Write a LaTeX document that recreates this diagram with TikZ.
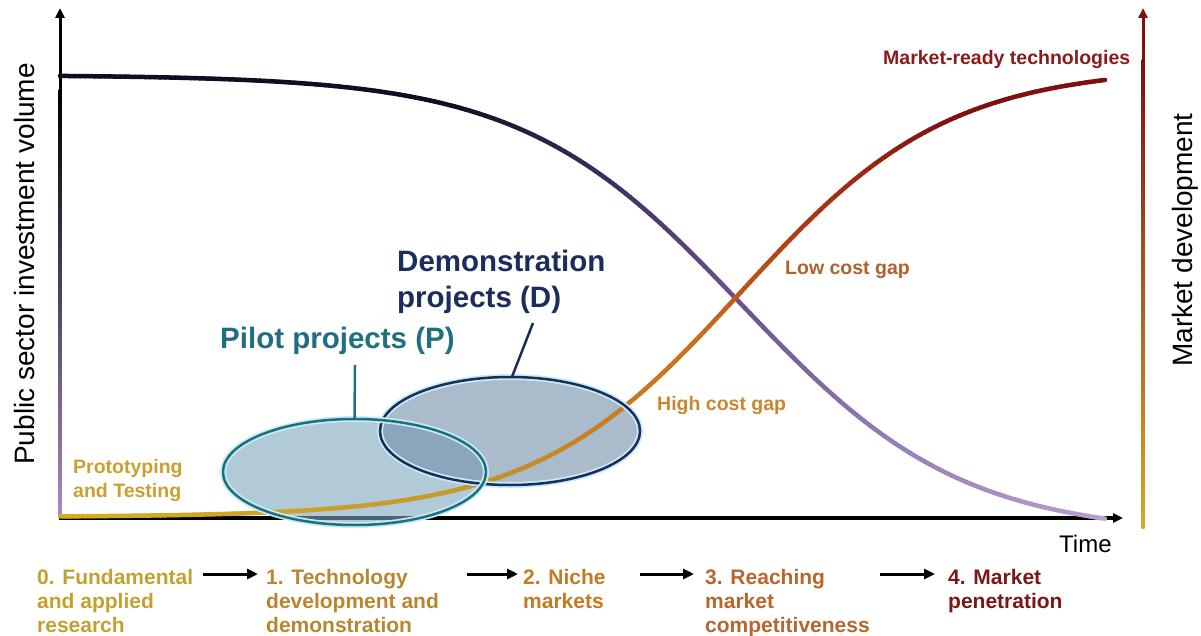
\documentclass[tikz,border=0pt]{standalone}
\usepackage{fontspec}
\setmainfont{Liberation Sans}
\usetikzlibrary{arrows.meta,shapes.geometric}
\definecolor{cGold}{HTML}{D6AE22}
\definecolor{cOlive}{HTML}{C49A2A}
\definecolor{cOrange}{HTML}{C8701C}
\definecolor{cRust}{HTML}{B03A14}
\definecolor{cDRed}{HTML}{7E1010}
\definecolor{pDark}{HTML}{120E22}
\definecolor{pMid}{HTML}{3A2C5C}
\definecolor{pPur}{HTML}{6A5090}
\definecolor{pPur2}{HTML}{9880B8}
\definecolor{pLight}{HTML}{B8A0D2}
\definecolor{axLeftLow}{HTML}{A88BC4}
\definecolor{axRMid}{HTML}{B07820}
\definecolor{axRLow}{HTML}{D4AA2A}
\definecolor{tealc}{HTML}{1F6F80}
\definecolor{navyc}{HTML}{1B2D5C}
\definecolor{pilotfill}{HTML}{7BA7BE}
\definecolor{demofill}{HTML}{718FAA}
\definecolor{glowc}{HTML}{C8ECF4}
\definecolor{sZero}{HTML}{C4A030}
\definecolor{sOne}{HTML}{B98630}
\definecolor{sTwo}{HTML}{C47A22}
\definecolor{sThree}{HTML}{B8662E}
\definecolor{sFour}{HTML}{7A1818}
\definecolor{tProto}{HTML}{C9A030}
\definecolor{tHigh}{HTML}{C8862E}
\definecolor{tLow}{HTML}{B0602A}
\definecolor{tReady}{HTML}{8B1A1A}

\newcommand\gradcurve[5]{%
  \pgfmathtruncatemacro\nseg{(#2-#1)/5-1}%
  \foreach \k in {0,...,\nseg}{%
    \pgfmathsetmacro\xa{#1+5*\k}%
    \pgfmathsetmacro\xb{\xa+5}%
    \pgfmathsetmacro\pc{100-100*(\k+0.5)/(\nseg+1)}%
    \draw[curvestyle, color=#3!\pc!#4] plot[domain=\xa:\xb, samples=3] (\x,{#5(\x)});
  }}

\begin{document}
\begin{tikzpicture}[x=1pt,y=-1pt,
  declare function={orf(\x)=517-450/(1+exp(-(\x-740.9)/103.6));
                     puf(\x)=75+460/(1+exp(-(\x-742)/110));},
  curvestyle/.style={line width=4.5pt, line cap=round},
  axisline/.style={line width=3pt, -{Triangle[length=10pt,width=9pt]}},
  stagearrow/.style={line width=3pt, -{Triangle[length=11pt,width=10pt]}},
  stagelabel/.style={anchor=north west, inner sep=0pt, align=left,
    font=\fontsize{21}{24}\selectfont\bfseries},
  smalllabel/.style={inner sep=0pt, align=left,
    font=\fontsize{19.5}{24}\selectfont\bfseries},
  biglabel/.style={anchor=north west, inner sep=0pt, align=left,
    font=\fontsize{29.5}{36}\selectfont\bfseries},
  axislabel/.style={inner sep=0pt, rotate=90, font=\fontsize{28}{30}\selectfont},
  projellipse/.style={ellipse, inner sep=0pt, fill opacity=0.6},
  projborder/.style={line width=2.5pt, preaction={draw=glowc, line width=6pt}},
]
\useasboundingbox (0,0) rectangle (1201,636);

% coordinates of axes
\coordinate (O) at (60,518);
\coordinate (ytop) at (60,8);
\coordinate (xend) at (1123,518);
\coordinate (rbot) at (1143,528);
\coordinate (rtop) at (1143,8);

% axes
\draw[axisline, black] (O) -- (ytop);
\shade[top color=black, bottom color=axLeftLow] (58.5,90) rectangle (61.5,518);
\draw[axisline, cDRed] (rbot) -- (rtop);
\shade[top color=cDRed, middle color=axRMid, bottom color=axRLow] (1141.5,60) rectangle (1144.5,528);
\draw[axisline, black, line width=3.2pt] (58.5,518) -- (xend);

% project ellipses (fills)
\node[projellipse, fill=pilotfill, minimum width=263pt, minimum height=106pt] (P) at (354.5,472) {};
\node[projellipse, fill=demofill, minimum width=260pt, minimum height=108pt] (D) at (510,431) {};

% curves
\gradcurve{60}{450}{pDark}{pDark}{puf}
\gradcurve{450}{600}{pDark}{pMid}{puf}
\gradcurve{600}{735}{pMid}{pPur}{puf}
\gradcurve{735}{900}{pPur}{pPur2}{puf}
\gradcurve{900}{1105}{pPur2}{pLight}{puf}

\gradcurve{60}{450}{cGold}{cOlive}{orf}
\gradcurve{450}{700}{cOlive}{cOrange}{orf}
\gradcurve{700}{800}{cOrange}{cRust}{orf}
\gradcurve{800}{950}{cRust}{cDRed}{orf}
\gradcurve{950}{1105}{cDRed}{cDRed}{orf}

% project ellipse borders
\draw[projborder, navyc] (D.center) ellipse [x radius=130, y radius=54];
\draw[projborder, tealc] (P.center) ellipse [x radius=131.5, y radius=53];

% project labels and leaders
\node[biglabel, text=navyc] (Dt) at (397,250) {Demonstration\\projects (D)};
\node[biglabel, text=tealc] (Pt) at (220,327) {Pilot projects (P)};
\coordinate (pl) at (355,365);
\coordinate (dl) at (533,323);
\draw[tealc, line width=2.5pt] (pl) -- (P.north);
\draw[navyc, line width=2.5pt] (dl) -- ([xshift=2pt]D.north);

% curve labels
\node[smalllabel, anchor=north west, text=tProto] (proto) at (73,459) {Prototyping\\and Testing};
\node[smalllabel, anchor=west, text=tHigh] (high) at (657,405) {High cost gap};
\node[smalllabel, anchor=west, text=tLow] (low) at (785,270) {Low cost gap};
\node[smalllabel, anchor=west, text=tReady] (ready) at (883,60) {Market-ready technologies};

% axis labels
\node[axislabel] (ylab) at (24,264) {Public sector investment volume};
\node[axislabel] (rlab) at (1185,240) {Market development};
\node[inner sep=0pt, anchor=base west, font=\fontsize{24}{26}\selectfont] (time) at (1059,552) {Time};

% stages
\node[stagelabel, text=sZero] (s0) at (37,569) {0. Fundamental\\and applied\\research};
\node[stagelabel, text=sOne] (s1) at (266,569) {1. Technology\\development and\\demonstration};
\node[stagelabel, text=sTwo] (s2) at (523,569) {2. Niche\\markets};
\node[stagelabel, text=sThree] (s3) at (705,569) {3. Reaching\\market\\competitiveness};
\node[stagelabel, text=sFour] (s4) at (948,569) {4. Market\\penetration};

\coordinate (a1s) at (203,574); \coordinate (a1e) at (258,574);
\coordinate (a2s) at (467,574); \coordinate (a2e) at (518,574);
\coordinate (a3s) at (640,574); \coordinate (a3e) at (694,574);
\coordinate (a4s) at (880,574); \coordinate (a4e) at (935,574);
\draw[stagearrow] (a1s) -- (a1e);
\draw[stagearrow] (a2s) -- (a2e);
\draw[stagearrow] (a3s) -- (a3e);
\draw[stagearrow] (a4s) -- (a4e);
\end{tikzpicture}
\end{document}
